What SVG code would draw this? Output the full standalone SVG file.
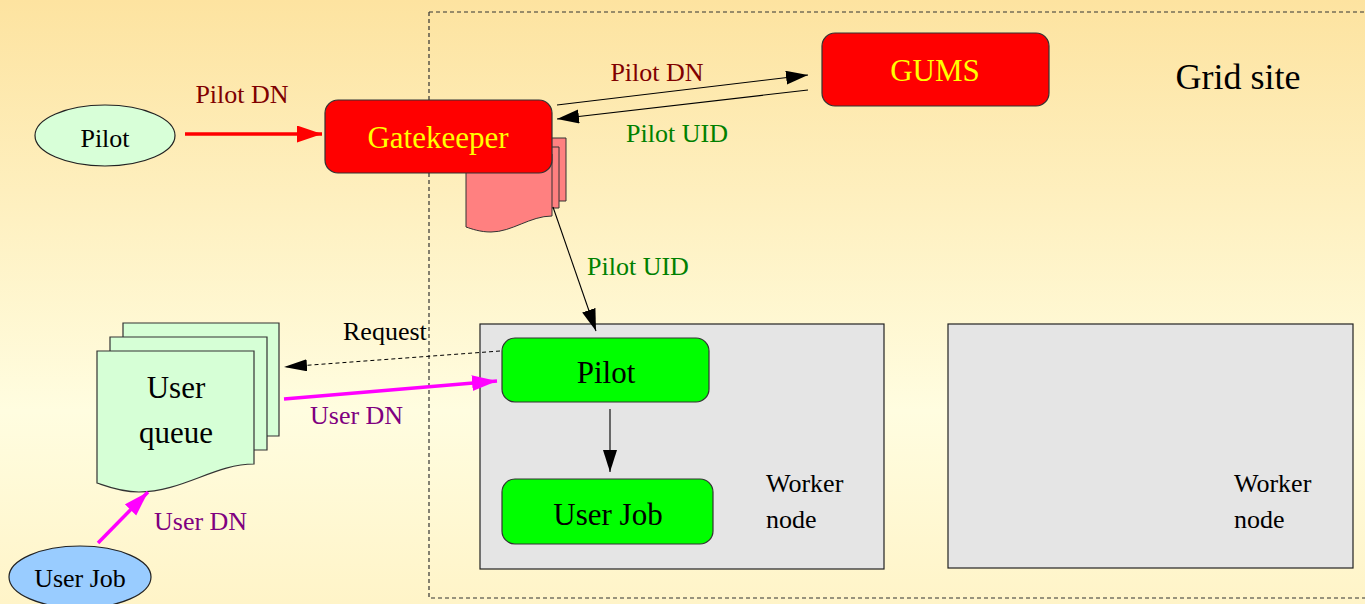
<svg xmlns="http://www.w3.org/2000/svg" width="1365" height="604" viewBox="0 0 1365 604">
<defs>
<linearGradient id="bg" x1="0" y1="0" x2="0" y2="1">
<stop offset="0" stop-color="#fde3a0"/>
<stop offset="0.68" stop-color="#fffde0"/>
<stop offset="1" stop-color="#fff4c8"/>
</linearGradient>
<marker id="hBlack" markerUnits="userSpaceOnUse" markerWidth="24" markerHeight="16" refX="22" refY="7" orient="auto"><path d="M0,0 L22,7 L0,14 Z" fill="#000"/></marker>
<marker id="hReq" markerUnits="userSpaceOnUse" markerWidth="24" markerHeight="14" refX="23" refY="6" orient="auto"><path d="M0,0 L23,6 L0,12 Z" fill="#000"/></marker>
<marker id="hRed" markerUnits="userSpaceOnUse" markerWidth="26" markerHeight="18" refX="25" refY="8.5" orient="auto"><path d="M0,0 L25,8.5 L0,17 Z" fill="#ff0000"/></marker>
<marker id="hMag" markerUnits="userSpaceOnUse" markerWidth="26" markerHeight="18" refX="25" refY="8" orient="auto"><path d="M0,0 L25,8 L0,16 Z" fill="#ff00ff"/></marker>
</defs>
<style>
text { font-family: "Liberation Serif", "Times New Roman", serif; }
.lbl { font-size: 26px; }
.big { font-size: 31px; }
.c { text-anchor: middle; }
.dred { fill: #800000; }
.dgreen { fill: #008000; }
.purple { fill: #800080; }
.yel { fill: #ffff00; }
.box { stroke: #333; stroke-width: 1.2; }
.redbox { fill: #ff0000; }
.greenbox { fill: #00ff00; }
.worker { fill: #e5e5e5; stroke: #222; stroke-width: 1.2; }
.page { fill: #d6ffd6; stroke: #333; stroke-width: 1.2; }
.pink { fill: #ff8080; stroke: #333; stroke-width: 1; }
.thin { fill: none; stroke: #000; stroke-width: 1.1; }
</style>
<rect x="0" y="0" width="1365" height="604" fill="url(#bg)"/>

<g id="grid-site">
<path d="M429,12 H1375 M429,12 V598 H1375" fill="none" stroke="#333" stroke-width="1.2" stroke-dasharray="4,3"/>
<text x="1238" y="89" class="c" font-size="36">Grid site</text>
</g>

<g id="worker-node-1">
<rect x="480" y="324" width="404" height="245" class="worker"/>
<text x="766" y="492" class="lbl">Worker</text>
<text x="766" y="528" class="lbl">node</text>
</g>
<g id="worker-node-2">
<rect x="948" y="324" width="405" height="244" class="worker"/>
<text x="1234" y="492" class="lbl">Worker</text>
<text x="1234" y="528" class="lbl">node</text>
</g>

<g id="pilot-ellipse">
<ellipse cx="105" cy="135.5" rx="70" ry="30.5" fill="#d8ffd8" stroke="#222" stroke-width="1.2"/>
<text x="105" y="147" class="lbl c">Pilot</text>
</g>

<g id="gatekeeper-docs">
<path d="M480,138 H566 V201 H480 Z" class="pink"/>
<path d="M473,147 H559 V208 H473 Z" class="pink"/>
<path d="M466,154 H552 V216 C530,216 512,232 491,232 C480,232 472,229 466,227 Z" class="pink"/>
</g>

<g id="gatekeeper">
<rect x="325" y="100" width="227" height="73" rx="13" class="box redbox"/>
<text x="438" y="148" class="big c yel">Gatekeeper</text>
</g>

<g id="gums">
<rect x="822" y="33" width="227" height="73" rx="13" class="box redbox"/>
<text x="935" y="81" class="big c yel">GUMS</text>
</g>

<g id="user-queue">
<path d="M123,323 H279 V436 H123 Z" class="page"/>
<path d="M110,337 H267 V450 H110 Z" class="page"/>
<path d="M97,351 H254 V464 C215,464 182,492 139,492 C120,492 106,486 97,483 Z" class="page"/>
<text x="176" y="398" class="big c">User</text>
<text x="176" y="443" class="big c">queue</text>
</g>

<g id="user-job-ellipse">
<ellipse cx="80" cy="577" rx="71" ry="31" fill="#99ccff" stroke="#222" stroke-width="1.2"/>
<text x="80" y="587" class="lbl c">User Job</text>
</g>

<g id="pilot-box">
<rect x="502" y="338" width="207" height="64" rx="13" class="box greenbox"/>
<text x="606" y="383" class="big c">Pilot</text>
</g>

<g id="user-job-box">
<rect x="502" y="479" width="211" height="65" rx="13" class="box greenbox"/>
<text x="608" y="525" class="big c">User Job</text>
</g>

<g id="connectors">
<line x1="185" y1="134" x2="322" y2="134" stroke="#ff0000" stroke-width="3.5" marker-end="url(#hRed)"/>
<line x1="557" y1="105" x2="808" y2="75" class="thin" marker-end="url(#hBlack)"/>
<line x1="808" y1="90" x2="557" y2="119" class="thin" marker-end="url(#hBlack)"/>
<line x1="553" y1="207" x2="596" y2="331" class="thin" marker-end="url(#hBlack)"/>
<line x1="610" y1="409" x2="610" y2="472" class="thin" marker-end="url(#hBlack)"/>
<line x1="500" y1="351" x2="284" y2="367" fill="none" stroke="#000" stroke-width="1" stroke-dasharray="4,3" marker-end="url(#hReq)"/>
<line x1="284" y1="399" x2="497" y2="381" stroke="#ff00ff" stroke-width="3.5" marker-end="url(#hMag)"/>
<line x1="98" y1="543" x2="148" y2="492" stroke="#ff00ff" stroke-width="3.5" marker-end="url(#hMag)"/>
</g>

<g id="labels">
<text x="242" y="103" class="lbl c dred">Pilot DN</text>
<text x="657" y="81" class="lbl c dred">Pilot DN</text>
<text x="677" y="142" class="lbl c dgreen">Pilot UID</text>
<text x="587" y="275" class="lbl dgreen">Pilot UID</text>
<text x="343" y="340" class="lbl">Request</text>
<text x="310" y="424" class="lbl purple">User DN</text>
<text x="154" y="530" class="lbl purple">User DN</text>
</g>
</svg>
